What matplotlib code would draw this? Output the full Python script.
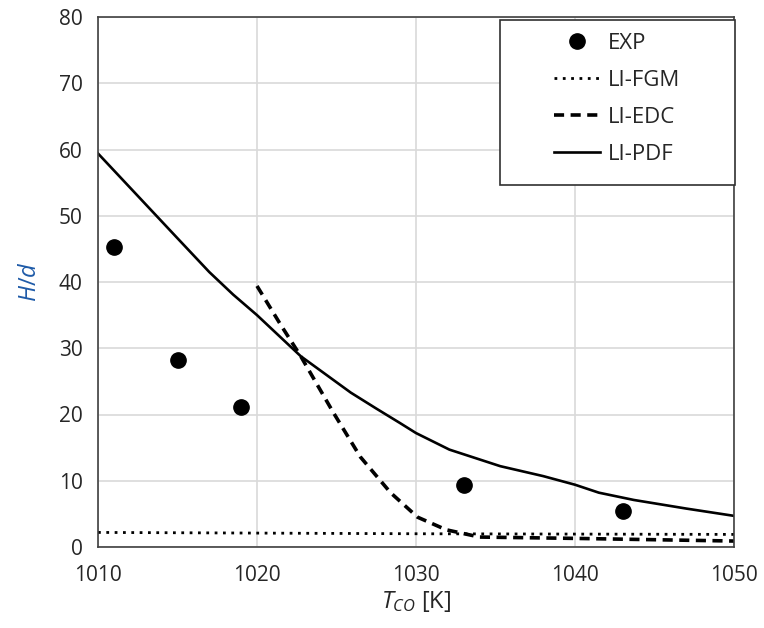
import matplotlib
matplotlib.use("Agg")
import matplotlib.pyplot as plt
from matplotlib.patches import Rectangle

exp_x = [1011, 1015, 1019, 1033, 1043]
exp_y = [45.3, 28.3, 21.2, 9.4, 5.5]

fgm_x = [1010, 1020, 1030, 1040, 1050]
fgm_y = [2.2, 2.1, 2.0, 1.95, 1.9]

edc_x = [1020, 1021.5, 1022.75, 1024.8, 1026.5, 1028.4, 1030.1, 1031.9, 1034, 1040, 1045, 1050]
edc_y = [39.4, 33.5, 28.8, 20.3, 13.6, 8.2, 4.5, 2.6, 1.5, 1.3, 1.1, 0.9]

pdf_x = [1010, 1015, 1017, 1018.5, 1020, 1022.75, 1025.9, 1027.5, 1029, 1030, 1032.1, 1035.3, 1038, 1040, 1041.5, 1043.7, 1047, 1050]
pdf_y = [59.4, 46.6, 41.5, 38.1, 35.0, 28.8, 23.3, 20.9, 18.7, 17.2, 14.7, 12.2, 10.7, 9.4, 8.2, 7.1, 5.8, 4.7]

xticks = [1010, 1020, 1030, 1040, 1050]
yticks = [0, 10, 20, 30, 40, 50, 60, 70, 80]

plt.rcParams['font.family'] = ['Open Sans', 'DejaVu Sans']
plt.rcParams['mathtext.fontset'] = 'custom'
plt.rcParams['mathtext.rm'] = 'Open Sans'
plt.rcParams['mathtext.it'] = 'Open Sans:italic'

W, H = 764, 628
fig = plt.figure(figsize=(W / 100, H / 100), dpi=100)
ax = fig.add_axes([98 / W, 1 - 547 / H, (734 - 98) / W, (547 - 17) / H])

ax.plot(exp_x, exp_y, 'o', color='black', markersize=11, label='EXP', zorder=5)
ax.plot(fgm_x, fgm_y, color='black', linestyle=(0, (1, 2)), linewidth=2.0, label='LI-FGM')
ax.plot(edc_x, edc_y, color='black', linestyle=(0, (2.8, 1.8)), linewidth=2.6, label='LI-EDC')
ax.plot(pdf_x, pdf_y, color='black', linestyle='-', linewidth=1.9, label='LI-PDF')

ax.set_xlim(1010, 1050)
ax.set_ylim(0, 80)
ax.set_xticks(xticks)
ax.set_yticks(yticks)
ax.grid(True, color='#d9d9d9', linewidth=1.2)
ax.set_axisbelow(True)
ax.tick_params(axis='both', length=0, labelsize=15, colors='#262626')
ax.tick_params(axis='x', pad=13)
ax.tick_params(axis='y', pad=11)
for s in ax.spines.values():
    s.set_color('#404040')
    s.set_linewidth(1.2)

ax.set_ylabel('$H/d$', color='#1f5ba8', fontsize=17, labelpad=12)
ax.set_xlabel('$T_{CO}$ [K]', color='#262626', fontsize=17, labelpad=2)

# legend frame (Excel-style, wide padding)
rect = Rectangle((500 / W, 1 - 185 / H), 235 / W, 165 / H, transform=fig.transFigure,
                 facecolor='white', edgecolor='#303030', linewidth=1.2, zorder=8, clip_on=False)
ax.add_patch(rect)

leg = ax.legend(loc='center', fontsize=16, frameon=False, handlelength=2.1,
                handletextpad=0.35, labelspacing=0.72, borderpad=0.0,
                bbox_to_anchor=(617 / W, 1 - 99 / H), bbox_transform=fig.transFigure)
leg.set_zorder(10)
for t in leg.get_texts():
    t.set_color('#262626')

fig.savefig('out.png', dpi=100, facecolor='white')
